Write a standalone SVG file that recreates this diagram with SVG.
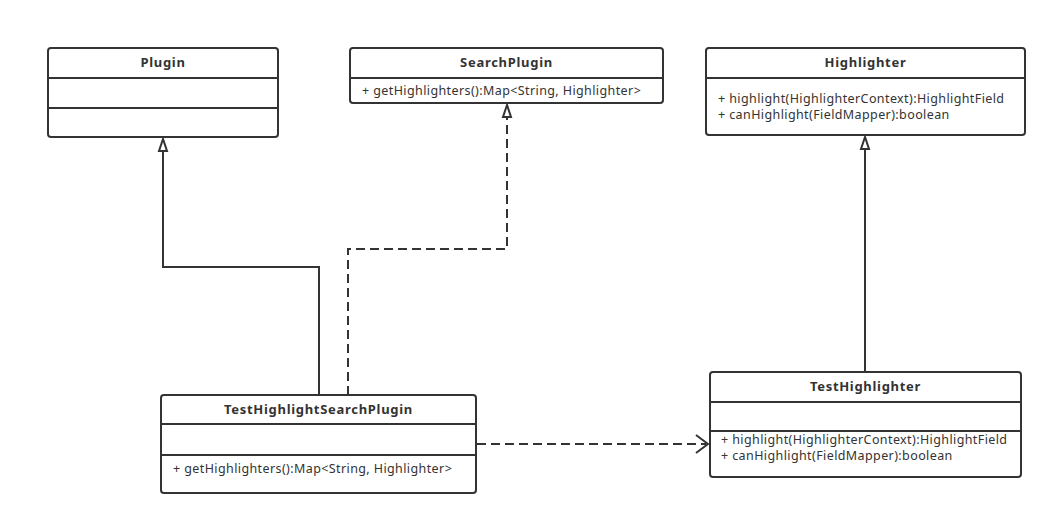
<svg xmlns="http://www.w3.org/2000/svg" width="1056" height="526" viewBox="0 0 1056 526">
<defs>
<style>
.box{fill:#fff;stroke:#333;stroke-width:2}
.div{stroke:#333;stroke-width:2}
.t{font-family:"Noto Sans","Open Sans","DejaVu Sans",sans-serif;font-size:13px;letter-spacing:0.7px;font-weight:bold;fill:#333;text-anchor:middle}
.m{font-family:"Noto Sans","Open Sans","DejaVu Sans",sans-serif;font-size:12.5px;letter-spacing:0.4px;fill:#333}
.ln{fill:none;stroke:#333;stroke-width:2}
.dash{stroke-dasharray:9 5}
.tri{fill:#fff;stroke:#333;stroke-width:2}
</style>
</defs>
<rect width="1056" height="526" fill="#fff"/>
<g id="connectors">
<polyline class="ln" points="319,395 319,267 163,267 163,151"/>
<polygon class="tri" points="163,139 159,151 167,151"/>
<polyline class="ln dash" points="348,395 348,249 507,249 507,117"/>
<polygon class="tri" points="507,105 503,117 511,117"/>
<line class="ln" x1="865" y1="372" x2="865" y2="149"/>
<polygon class="tri" points="865,137 861,149 869,149"/>
<line class="ln dash" x1="477" y1="444" x2="706" y2="444"/>
<polyline class="ln" points="696,435 708,444 696,453"/>
</g>
<g id="plugin">
<rect class="box" x="48" y="48" width="230" height="89" rx="3"/>
<line class="div" x1="48" y1="78" x2="278" y2="78"/>
<line class="div" x1="48" y1="108" x2="278" y2="108"/>
<text class="t" x="163" y="67">Plugin</text>
</g>
<g id="searchplugin">
<rect class="box" x="350" y="48" width="313" height="55" rx="3"/>
<line class="div" x1="350" y1="78" x2="663" y2="78"/>
<text class="t" x="506.5" y="67">SearchPlugin</text>
<text class="m" x="362" y="95">+ getHighlighters():Map&lt;String, Highlighter&gt;</text>
</g>
<g id="highlighter">
<rect class="box" x="706" y="48" width="319" height="87" rx="3"/>
<line class="div" x1="706" y1="78" x2="1025" y2="78"/>
<text class="t" x="865.5" y="67">Highlighter</text>
<text class="m" x="718" y="103">+ highlight(HighlighterContext):HighlightField</text>
<text class="m" x="718" y="119">+ canHighlight(FieldMapper):boolean</text>
</g>
<g id="testhighlightsearchplugin">
<rect class="box" x="161" y="395" width="315" height="98" rx="3"/>
<line class="div" x1="161" y1="424" x2="476" y2="424"/>
<line class="div" x1="161" y1="455" x2="476" y2="455"/>
<text class="t" x="318.5" y="414">TestHighlightSearchPlugin</text>
<text class="m" x="173" y="473">+ getHighlighters():Map&lt;String, Highlighter&gt;</text>
</g>
<g id="testhighlighter">
<rect class="box" x="710" y="372" width="311" height="105" rx="3"/>
<line class="div" x1="710" y1="402" x2="1021" y2="402"/>
<line class="div" x1="710" y1="431" x2="1021" y2="431"/>
<text class="t" x="865.5" y="391">TestHighlighter</text>
<text class="m" x="721" y="444">+ highlight(HighlighterContext):HighlightField</text>
<text class="m" x="721" y="460">+ canHighlight(FieldMapper):boolean</text>
</g>
</svg>
